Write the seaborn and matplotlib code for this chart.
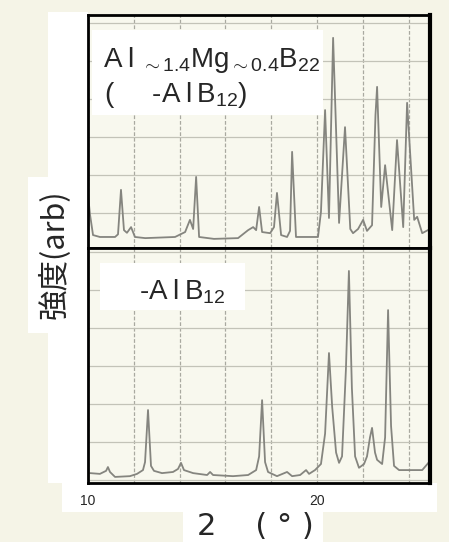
import matplotlib
matplotlib.use("Agg")
import matplotlib.pyplot as plt
from matplotlib.patches import Rectangle
import pandas as pd
import seaborn as sns

# trace of the upper pattern (Al~1.4Mg~0.4B22), 2theta in degrees, intensity in chart-paper divisions
top_angle = [10.00, 10.09, 10.22, 10.52, 11.18, 11.31, 11.44, 11.57, 11.70, 11.88, 12.05, 12.50,
             13.80, 14.24, 14.45, 14.59, 14.72, 14.85, 15.50, 16.55, 16.99, 17.21, 17.34, 17.47,
             17.60, 17.95, 18.12, 18.25, 18.43, 18.69, 18.82, 18.91, 19.08, 20.04, 20.17, 20.35,
             20.52, 20.70, 20.96, 21.22, 21.45, 21.57, 21.79, 22.01, 22.18, 22.40, 22.55, 22.62,
             22.80, 22.97, 23.28, 23.49, 23.76, 23.93, 24.24, 24.37, 24.59, 24.93]
top_intensity = [1.39, 0.87, 0.34, 0.29, 0.29, 0.36, 1.53, 0.47, 0.40, 0.55, 0.29, 0.26,
                 0.29, 0.42, 0.74, 0.50, 1.87, 0.29, 0.24, 0.26, 0.47, 0.55, 0.47, 1.08,
                 0.42, 0.39, 0.55, 1.45, 0.34, 0.29, 0.45, 2.53, 0.29, 0.29, 0.95, 3.63,
                 0.79, 5.53, 0.66, 3.18, 0.50, 0.39, 0.50, 0.74, 0.45, 0.60, 3.50, 4.24,
                 1.08, 2.18, 0.47, 2.84, 0.55, 3.82, 0.74, 0.82, 0.39, 0.50]

# trace of the lower pattern (-AlB12)
bottom_angle = [10.09, 10.52, 10.79, 10.87, 10.96, 11.18, 11.83, 12.14, 12.40, 12.49, 12.62, 12.75,
                12.88, 13.23, 13.71, 13.93, 14.06, 14.19, 14.59, 15.20, 15.33, 15.46, 16.33, 16.99,
                17.34, 17.47, 17.60, 17.73, 17.86, 18.25, 18.69, 18.91, 19.26, 19.52, 19.65, 19.91,
                20.17, 20.35, 20.52, 20.66, 20.83, 20.96, 21.09, 21.26, 21.39, 21.52, 21.66, 21.83,
                22.05, 22.18, 22.31, 22.40, 22.53, 22.62, 22.84, 22.97, 23.10, 23.23, 23.36, 23.58,
                24.59, 24.93]
bottom_intensity = [0.26, 0.24, 0.32, 0.42, 0.29, 0.16, 0.18, 0.24, 0.34, 0.55, 1.92, 0.45,
                    0.32, 0.26, 0.29, 0.37, 0.53, 0.34, 0.26, 0.21, 0.29, 0.21, 0.18, 0.21,
                    0.34, 0.70, 2.18, 0.55, 0.29, 0.18, 0.29, 0.18, 0.21, 0.34, 0.24, 0.34,
                    0.50, 1.30, 3.42, 2.00, 0.80, 0.53, 0.70, 3.00, 5.58, 2.50, 0.70, 0.40,
                    0.50, 0.70, 1.20, 1.45, 0.80, 0.61, 0.50, 1.20, 4.55, 1.50, 0.45, 0.34,
                    0.34, 0.58]

tick_values = [10, 12, 14, 16, 18, 20, 22, 24]
tick_labels = ["10", "", "", "", "", "20", "", ""]

top_label_1 = "A\u2009l " + r"$_{\sim 1.4}$Mg$_{\sim 0.4}$B$_{22}$"
top_label_2 = "(     -A\u2009l\u2009B" + r"$_{12}$)"
bottom_label = "-A\u2009l\u2009B" + r"$_{12}$"

sns.set_style("white")
plt.rcParams["font.family"] = ["Liberation Sans", "DejaVu Sans"]
plt.rcParams["mathtext.fontset"] = "custom"
plt.rcParams["mathtext.rm"] = "Liberation Sans"
plt.rcParams["mathtext.it"] = "Liberation Sans"

paper = "#f5f4e7"
inside = "#f8f8ee"
trace = "#85857f"

W, H = 449, 542
fig = plt.figure(figsize=(W / 100, H / 100), dpi=100, facecolor=paper)

# white paste-up areas around the scanned chart
for (x0, y0, x1, y1) in [(48, 12, 88, 483), (28, 177, 88, 333), (62, 483, 437, 512), (183, 512, 323, 542)]:
    fig.patches.append(Rectangle((x0 / W, 1 - y1 / H), (x1 - x0) / W, (y1 - y0) / H,
                                 transform=fig.transFigure, facecolor="white", edgecolor="none", zorder=-1))

ax_top = fig.add_axes([88 / W, 1 - 248 / H, 342 / W, 233 / H])
ax_bot = fig.add_axes([88 / W, 1 - 483 / H, 342 / W, 235 / H])

df_top = pd.DataFrame({"angle": top_angle, "intensity": top_intensity})
df_bot = pd.DataFrame({"angle": bottom_angle, "intensity": bottom_intensity})

panels = [(ax_top, df_top, 233 / 38, 0.92), (ax_bot, df_bot, 235 / 38, 0.08)]
for ax, df, ytop, yoff in panels:
    ax.set_facecolor(inside)
    sns.lineplot(data=df, x="angle", y="intensity", ax=ax, sort=False, estimator=None,
                 color=trace, lw=1.3, zorder=2)
    ax.set_xlim(10, 24.93)
    ax.set_ylim(0, ytop)
    ax.set_xticks(tick_values)
    ax.set_yticks([yoff + k for k in range(7) if yoff + k < ytop])
    ax.set_axisbelow(True)
    ax.grid(axis="x", color="#a9a9a0", lw=0.9, linestyle=(0, (3, 1.5)))
    ax.grid(axis="y", color="#c3c3b8", lw=0.9)
    ax.tick_params(length=0)
    ax.set_yticklabels([])
    ax.set_xlabel("")
    ax.set_ylabel("")
    for s in ax.spines.values():
        s.set_color("black")
        s.set_linewidth(2)
    ax.spines["right"].set_linewidth(3)

ax_top.set_xticklabels([])
ax_bot.set_xticklabels(tick_labels, fontsize=10)
ax_bot.tick_params(axis="x", pad=8)

# label boxes
ax_top.add_patch(Rectangle(((92 - 88) / 342, (248 - 115) / 233), (323 - 92) / 342, (115 - 30) / 233,
                           transform=ax_top.transAxes, facecolor="white", edgecolor="none", zorder=3))
ax_top.text((103 - 88) / 342, (248 - 67) / 233, top_label_1, transform=ax_top.transAxes,
            fontsize=20, va="baseline", ha="left", zorder=4)
ax_top.text((104 - 88) / 342, (248 - 102) / 233, top_label_2, transform=ax_top.transAxes,
            fontsize=20, va="baseline", ha="left", zorder=4)

ax_bot.add_patch(Rectangle(((100 - 88) / 342, (483 - 310) / 235), (245 - 100) / 342, (310 - 263) / 235,
                           transform=ax_bot.transAxes, facecolor="white", edgecolor="none", zorder=3))
ax_bot.text((139 - 88) / 342, (483 - 300) / 235, bottom_label, transform=ax_bot.transAxes,
            fontsize=20, va="baseline", ha="left", zorder=4)

fig.text(255 / W, 7 / H, "2    ( ° )", fontsize=22, family=["DejaVu Sans"], ha="center", va="baseline")
fig.text(55 / W, 1 - 254 / H, "強度(arb)", fontsize=22, rotation=90, ha="center", va="center",
         family=["Noto Sans CJK JP", "DejaVu Sans"])

fig.savefig("out.png", dpi=100, facecolor=paper)
